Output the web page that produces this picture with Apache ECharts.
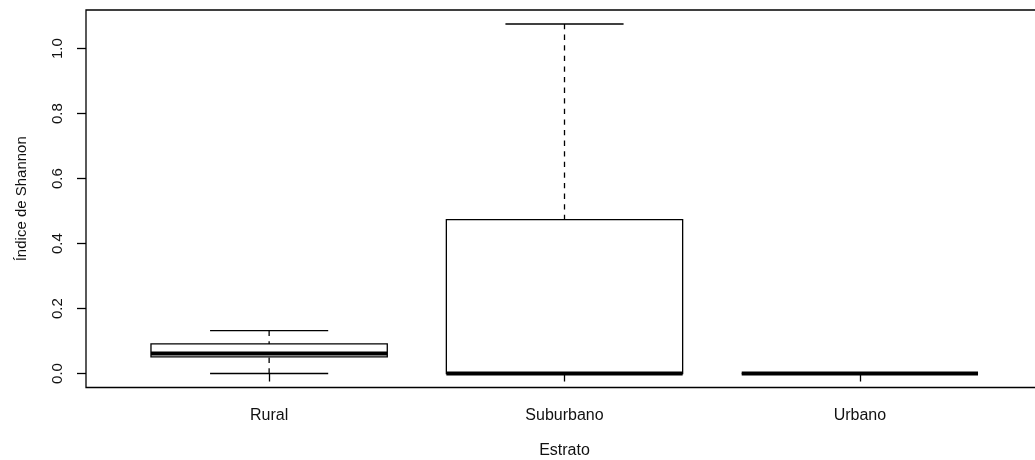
<!DOCTYPE html>
<html>
<head>
<meta charset="utf-8">
<title>Índice de Shannon por estrato</title>
<script src="https://cdn.jsdelivr.net/npm/echarts@6/dist/echarts.min.js"></script>
<style>
  html, body { margin: 0; padding: 0; background: #fff; }
  #chart { width: 1035px; height: 460px; }
</style>
</head>
<body>
<div id="chart"></div>
<script>
// Boxplot statistics of the Shannon index for each stratum
const categories   = ['Rural', 'Suburbano', 'Urbano'];
const whiskerLow   = [0.000, 0.000, 0.000];
const quartileLow  = [0.051, 0.000, 0.000];
const medians      = [0.062, 0.000, 0.000];
const quartileHigh = [0.091, 0.474, 0.000];
const whiskerHigh  = [0.132, 1.076, 0.000];
const yTicks       = [0.0, 0.2, 0.4, 0.6, 0.8, 1.0];

// Axis extents: data range padded by 4% on each side
const allValues = whiskerLow.concat(whiskerHigh);
const dataMin = Math.min.apply(null, allValues);
const dataMax = Math.max.apply(null, allValues);
const pad = (dataMax - dataMin) * 0.04;
const yMin = dataMin - pad;
const yMax = dataMax + pad;
const xMin = 0.5 - categories.length * 0.04;
const xMax = categories.length + 0.5 + categories.length * 0.04;
const positions = categories.map((c, i) => i + 1);

const boxData = categories.map((c, i) => [
  positions[i], whiskerLow[i], quartileLow[i], medians[i], quartileHigh[i], whiskerHigh[i]
]);

const ink = '#000';
const thin = 1.3;

function renderBox(params, api) {
  const x = api.value(0);
  const xc = api.coord([x, 0])[0];
  const half = api.size([0.4, 0])[0];
  const stapleHalf = api.size([0.2, 0])[0];
  const yAt = k => api.coord([x, api.value(k)])[1];
  const yLo = yAt(1), yQ1 = yAt(2), yMed = yAt(3), yQ3 = yAt(4), yHi = yAt(5);
  const lineStyle = { stroke: ink, lineWidth: thin, fill: null };
  const dashStyle = { stroke: ink, lineWidth: thin, fill: null, lineDash: [5.3, 5.3] };
  return {
    type: 'group',
    children: [
      { type: 'line', shape: { x1: xc, y1: yHi, x2: xc, y2: yQ3 }, style: dashStyle },
      { type: 'line', shape: { x1: xc, y1: yLo, x2: xc, y2: yQ1 }, style: dashStyle },
      { type: 'line', shape: { x1: xc - stapleHalf, y1: yHi, x2: xc + stapleHalf, y2: yHi }, style: lineStyle },
      { type: 'line', shape: { x1: xc - stapleHalf, y1: yLo, x2: xc + stapleHalf, y2: yLo }, style: lineStyle },
      { type: 'rect', shape: { x: xc - half, y: yQ3, width: half * 2, height: yQ1 - yQ3 },
        style: { stroke: ink, lineWidth: thin, fill: '#fff' } },
      { type: 'line', shape: { x1: xc - half, y1: yMed, x2: xc + half, y2: yMed },
        style: { stroke: ink, lineWidth: 4, lineCap: 'butt', fill: null } }
    ]
  };
}

const font = '"Liberation Sans", Arial, sans-serif';
const chart = echarts.init(document.getElementById('chart'), null, { renderer: 'canvas' });

chart.setOption({
  animation: false,
  backgroundColor: '#fff',
  grid: {
    left: 86, top: 10, right: -8, bottom: 72.5,
    containLabel: false,
    outerBoundsMode: 'none',
    show: true, borderColor: ink, borderWidth: thin, backgroundColor: 'transparent'
  },
  xAxis: {
    type: 'value',
    min: xMin, max: xMax,
    name: 'Estrato',
    nameLocation: 'middle',
    nameGap: 55,
    nameTextStyle: { color: '#111', fontFamily: font, fontSize: 16 },
    axisLine: { show: false },
    splitLine: { show: false },
    axisTick: {
      show: true, length: 8, customValues: positions,
      lineStyle: { color: ink, width: thin }
    },
    axisLabel: {
      customValues: positions,
      margin: 20,
      color: '#111', fontFamily: font, fontSize: 16,
      formatter: v => categories[Math.round(v) - 1] || ''
    }
  },
  yAxis: {
    type: 'value',
    min: yMin, max: yMax,
    name: 'Índice de Shannon',
    nameLocation: 'middle',
    nameGap: 57,
    nameTextStyle: { color: '#111', fontFamily: font, fontSize: 15 },
    axisLine: { show: false },
    splitLine: { show: false },
    axisTick: {
      show: true, length: 9, customValues: yTicks,
      lineStyle: { color: ink, width: thin }
    },
    axisLabel: {
      customValues: yTicks,
      rotate: 90,
      margin: 21,
      color: '#111', fontFamily: font, fontSize: 15,
      formatter: v => v.toFixed(1)
    }
  },
  series: [{
    type: 'custom',
    renderItem: renderBox,
    data: boxData,
    encode: { x: 0, y: [1, 2, 3, 4, 5] },
    clip: false,
    z: 2
  }]
});
</script>
</body>
</html>
